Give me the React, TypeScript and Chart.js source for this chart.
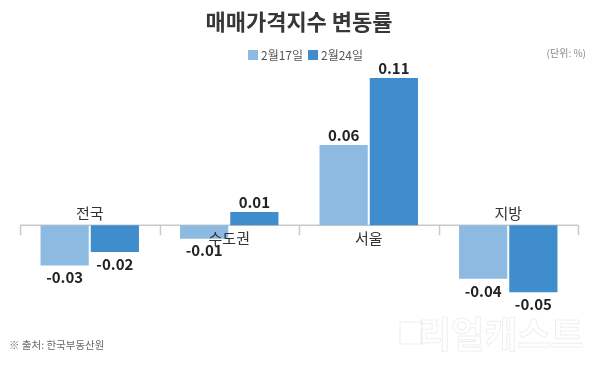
import React, { useEffect, useRef } from 'react';
import { Chart, registerables } from 'chart.js';

Chart.register(...registerables);

const title = '매매가격지수 변동률';
const categories = ['전국', '수도권', '서울', '지방'];
const seriesLabels = ['2월17일', '2월24일'];
const feb17 = [-0.03, -0.01, 0.06, -0.04];
const feb24 = [-0.02, 0.01, 0.11, -0.05];
const seriesColors = ['#8DBAE1', '#408DCD'];
const unitLabel = '(단위: %)';
const sourceNote = '※ 출처: 한국부동산원';
const watermark = '리얼캐스트';

const FONT = '"Noto Sans CJK KR", "Noto Sans", sans-serif';

export default function App() {
  const ref = useRef<HTMLCanvasElement>(null);

  useEffect(() => {
    const canvas = ref.current;
    if (!canvas) return;

    const overlay = {
      id: 'overlay',
      beforeDatasetsDraw(chart: any) {
        const ctx = chart.ctx;
        const area = chart.chartArea;
        const y0 = chart.scales.y.getPixelForValue(0);
        const n = categories.length;
        const cw = (area.right - area.left) / n;
        ctx.save();
        ctx.strokeStyle = '#c9c9c9';
        ctx.lineWidth = 1.5;
        ctx.beginPath();
        ctx.moveTo(area.left, y0);
        ctx.lineTo(area.right, y0);
        for (let i = 0; i <= n; i++) {
          const x = Math.round(area.left + i * cw) + 0.5;
          ctx.moveTo(x, y0);
          ctx.lineTo(x, y0 + 10);
        }
        ctx.stroke();
        ctx.restore();
      },
      afterDraw(chart: any) {
        const ctx = chart.ctx;
        const y0 = chart.scales.y.getPixelForValue(0);
        ctx.save();

        // Title
        ctx.fillStyle = '#373737';
        ctx.font = `bold 22px ${FONT}`;
        ctx.textAlign = 'center';
        ctx.textBaseline = 'middle';
        ctx.fillText(title, 299, 22);

        // Legend
        ctx.font = `12px ${FONT}`;
        ctx.textAlign = 'left';
        const legendX = [248, 308];
        seriesLabels.forEach((lab, i) => {
          ctx.fillStyle = seriesColors[i];
          ctx.fillRect(legendX[i], 50, 10, 10);
          ctx.fillStyle = '#555';
          ctx.fillText(lab, legendX[i] + 13, 55.5);
        });

        // Unit
        ctx.font = `10px ${FONT}`;
        ctx.fillStyle = '#8a8a8a';
        ctx.textAlign = 'right';
        ctx.fillText(unitLabel, 586, 53);

        // Source
        ctx.font = `10.5px ${FONT}`;
        ctx.fillStyle = '#6a6a6a';
        ctx.textAlign = 'left';
        ctx.fillText(sourceNote, 9, 345);

        // Watermark
        ctx.font = `bold 36px ${FONT}`;
        ctx.textAlign = 'left';
        ctx.lineWidth = 1;
        ctx.strokeStyle = 'rgba(0,0,0,0.07)';
        ctx.strokeText(watermark, 418, 334);
        ctx.strokeRect(400, 322, 22, 22);

        // Value labels
        ctx.font = `bold 15px ${FONT}`;
        ctx.fillStyle = '#222';
        ctx.textAlign = 'center';
        chart.data.datasets.forEach((ds: any, di: number) => {
          const meta = chart.getDatasetMeta(di);
          meta.data.forEach((el: any, i: number) => {
            const v = ds.data[i];
            const txt = v.toFixed(2);
            if (v >= 0) ctx.fillText(txt, el.x, el.y - 10);
            else ctx.fillText(txt, el.x, el.y + 12);
          });
        });

        // Category labels (placed opposite to the bars)
        ctx.font = `15px ${FONT}`;
        ctx.fillStyle = '#333';
        categories.forEach((c, i) => {
          const x = chart.scales.x.getPixelForValue(i);
          const anyPos = feb17[i] > 0 || feb24[i] > 0;
          ctx.fillText(c, x, anyPos ? y0 + 13 : y0 - 12);
        });

        ctx.restore();
      },
    };

    const chart = new Chart(canvas, {
      type: 'bar',
      data: {
        labels: categories,
        datasets: [
          { label: seriesLabels[0], data: feb17, backgroundColor: seriesColors[0] },
          { label: seriesLabels[1], data: feb24, backgroundColor: seriesColors[1] },
        ],
      },
      options: {
        responsive: false,
        animation: false,
        layout: { padding: { left: 20, right: 22, top: 78, bottom: 50 } },
        datasets: { bar: { categoryPercentage: 0.72, barPercentage: 0.96 } },
        plugins: { legend: { display: false }, tooltip: { enabled: false }, title: { display: false } },
        scales: {
          x: { display: false },
          y: { display: false, min: -0.07, max: 0.11 },
        },
      },
      plugins: [overlay],
    });

    return () => chart.destroy();
  }, []);

  return (
    <div style={{ position: 'fixed', left: 0, top: 0, width: 600, height: 369, background: '#fff' }}>
      <canvas ref={ref} width={600} height={369} style={{ display: 'block' }} />
    </div>
  );
}
